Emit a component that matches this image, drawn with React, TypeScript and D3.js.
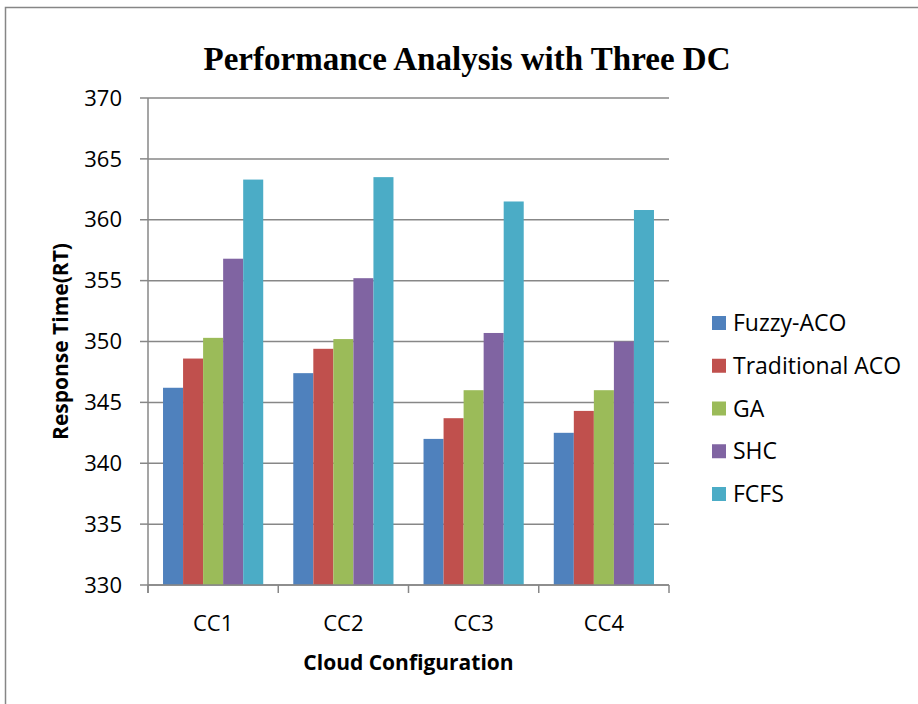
import React from "react";
import * as d3 from "d3";

const categories = ["CC1", "CC2", "CC3", "CC4"];
const seriesNames = ["Fuzzy-ACO", "Traditional ACO", "GA", "SHC", "FCFS"];
const fuzzyAco = [346.2, 347.4, 342.0, 342.5];
const traditionalAco = [348.6, 349.4, 343.7, 344.3];
const ga = [350.3, 350.2, 346.0, 346.0];
const shc = [356.8, 355.2, 350.7, 350.0];
const fcfs = [363.3, 363.5, 361.5, 360.8];
const yTicks = [330, 335, 340, 345, 350, 355, 360, 365, 370];

const seriesValues = [fuzzyAco, traditionalAco, ga, shc, fcfs];
const colors = ["#4F81BD", "#C0504D", "#9BBB59", "#8064A2", "#4BACC6"];

const W = 918;
const H = 704;
const left = 148;
const right = 669;
const top = 98;
const bottom = 585;
const gridColor = "#878787";
const labelFont = "'Open Sans', 'Noto Sans', sans-serif";

const App = () => {
  const x0 = d3.scaleBand().domain(categories).range([left, right]);
  const x1 = d3
    .scaleBand()
    .domain(seriesNames)
    .range([0, x0.bandwidth()])
    .paddingOuter(0.75);
  const y = d3.scaleLinear().domain([330, 370]).range([bottom, top]);

  const legendY = d3.scalePoint().domain(seriesNames).range([323, 494]);

  return (
    <svg
      width={W}
      height={H}
      style={{ position: "absolute", left: 0, top: 0, background: "#fff" }}
    >
      {/* outer frame, runs off right and bottom */}
      <rect x={5.5} y={7.5} width={W + 20} height={H + 20} fill="none" stroke="#868686" strokeWidth={1.5} />

      <text
        x={467}
        y={70}
        textAnchor="middle"
        fontFamily="'Liberation Serif', 'Times New Roman', serif"
        fontWeight="bold"
        fontSize={33}
        textLength={527}
        lengthAdjust="spacingAndGlyphs"
      >
        Performance Analysis with Three DC
      </text>

      {/* gridlines + y ticks */}
      {yTicks.map((t) => (
        <g key={t}>
          <line x1={left} x2={right} y1={y(t)} y2={y(t)} stroke={gridColor} strokeWidth={1.5} />
          <line x1={left - 8} x2={left} y1={y(t)} y2={y(t)} stroke={gridColor} strokeWidth={1.5} />
          <text
            x={122}
            y={y(t)}
            dy="0.35em"
            textAnchor="end"
            fontFamily={labelFont}
            fontSize={22}
            fill="#000"
          >
            {t}
          </text>
        </g>
      ))}

      {/* bars */}
      {categories.map((c, ci) => (
        <g key={c} transform={`translate(${x0(c)},0)`}>
          {seriesNames.map((s, si) => (
            <rect
              key={s}
              x={x1(s)}
              y={y(seriesValues[si][ci])}
              width={x1.bandwidth()}
              height={bottom - y(seriesValues[si][ci])}
              fill={colors[si]}
            />
          ))}
        </g>
      ))}

      {/* axes */}
      <line x1={left} x2={left} y1={top} y2={bottom + 8} stroke={gridColor} strokeWidth={1.5} />
      <line x1={left} x2={right} y1={bottom} y2={bottom} stroke={gridColor} strokeWidth={1.5} />
      {categories.concat(["end"]).map((c, i) => {
        const xx = i < categories.length ? (x0(c) as number) : right;
        return <line key={c} x1={xx} x2={xx} y1={bottom} y2={bottom + 8} stroke={gridColor} strokeWidth={1.5} />;
      })}
      {categories.map((c) => (
        <text
          key={c}
          x={(x0(c) as number) + x0.bandwidth() / 2}
          y={631}
          textAnchor="middle"
          fontFamily={labelFont}
          fontSize={22}
        >
          {c}
        </text>
      ))}

      <text
        x={(left + right) / 2}
        y={670}
        textAnchor="middle"
        fontFamily={labelFont}
        fontWeight="bold"
        fontSize={21}
      >
        Cloud Configuration
      </text>

      <text
        transform={`translate(68,${(top + bottom) / 2}) rotate(-90)`}
        textAnchor="middle"
        fontFamily={labelFont}
        fontWeight="bold"
        fontSize={21}
      >
        Response Time(RT)
      </text>

      {/* legend */}
      {seriesNames.map((s, i) => (
        <g key={s} transform={`translate(712,${legendY(s)})`}>
          <rect x={0} y={-7} width={14} height={14} fill={colors[i]} />
          <text x={21} y={0} dy="0.35em" fontFamily={labelFont} fontSize={23}>
            {s}
          </text>
        </g>
      ))}
    </svg>
  );
};

export default App;
